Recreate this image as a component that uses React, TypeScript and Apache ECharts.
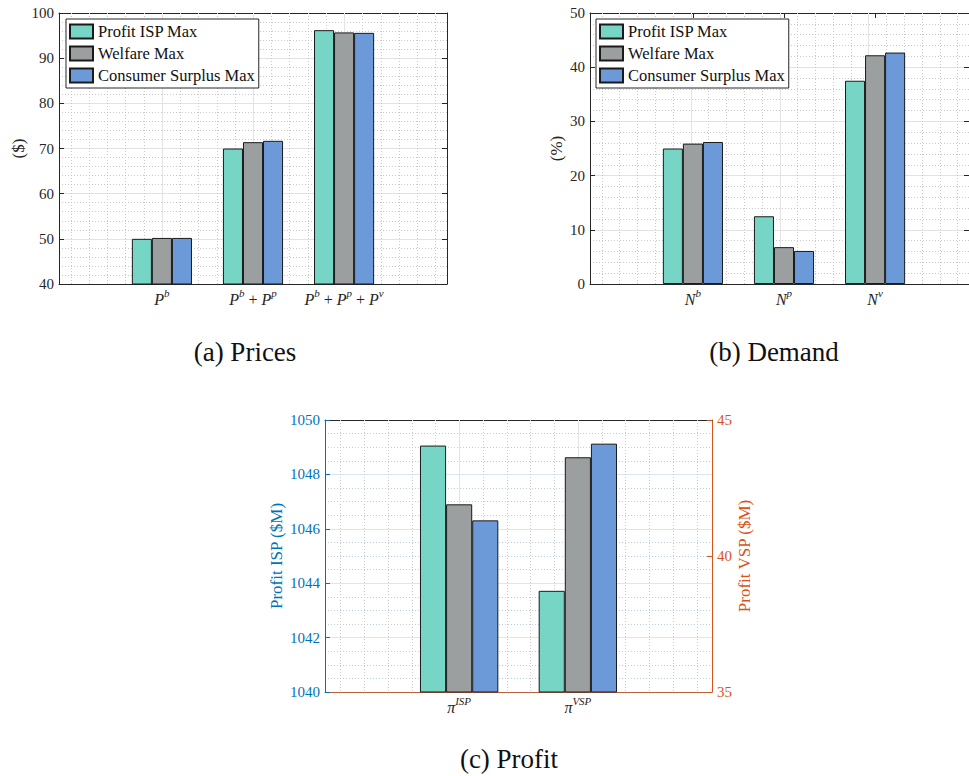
import React, { useEffect, useRef } from "react";
import * as echarts from "echarts";

// ---------- data ----------
const schemeNames = ["Profit ISP Max", "Welfare Max", "Consumer Surplus Max"];
const schemeColors = ["#77D5C6", "#9C9FA0", "#6C9AD9"];

const priceCategories = ["P^b", "P^b + P^p", "P^b + P^p + P^v"];
const priceProfitIspMax = [50.0, 70.0, 96.2];
const priceWelfareMax = [50.2, 71.4, 95.7];
const priceConsumerSurplusMax = [50.2, 71.7, 95.6];
const priceAxis = { min: 40, max: 100, interval: 10 };

const demandCategories = ["N^b", "N^p", "N^v"];
const demandProfitIspMax = [25.0, 12.5, 37.5];
const demandWelfareMax = [25.9, 6.8, 42.2];
const demandConsumerSurplusMax = [26.2, 6.1, 42.7];
const demandAxis = { min: 0, max: 50, interval: 10 };

const profitCategories = ["π^ISP", "π^VSP"];
// values per scheme: Profit ISP Max, Welfare Max, Consumer Surplus Max
const ispProfitBySchemes = [1049.06, 1046.9, 1046.31];
const vspProfitBySchemes = [38.72, 43.63, 44.13];
const ispAxis = { min: 1040, max: 1050, interval: 2 };
const vspAxis = { min: 35, max: 45, interval: 5 };

const captions = ["(a) Prices", "(b) Demand", "(c) Profit"];

// ---------- styling ----------
const FONT = "Liberation Serif, Times New Roman, serif";
const AXIS_COLOR = "#262626";
const ISP_COLOR = "#0072BD";
const VSP_COLOR = "#D95319";

const toRich = (s: string) =>
  s
    .split(" + ")
    .map((t) => {
      const [b, sup] = t.split("^");
      return `{i|${b}}{s|${sup}}`;
    })
    .join("{n| + }");

const richStyles: any = {
  i: { fontFamily: FONT, fontStyle: "italic", fontSize: 16, color: AXIS_COLOR, lineHeight: 20, verticalAlign: "bottom" },
  s: { fontFamily: FONT, fontStyle: "italic", fontSize: 11, color: AXIS_COLOR, lineHeight: 11, verticalAlign: "top" },
  n: { fontFamily: FONT, fontSize: 16, color: AXIS_COLOR, lineHeight: 20, verticalAlign: "bottom" },
};

function buildOption() {
  const grid: any[] = [];
  const xAxis: any[] = [];
  const yAxis: any[] = [];
  const series: any[] = [];

  const makeY = (gi: number, position: string, a: any, primary: boolean) => ({
    gridIndex: gi,
    type: "value",
    position,
    min: a.min,
    max: a.max,
    interval: a.interval,
    axisLine: { show: true, onZero: false, lineStyle: { color: a.lineColor, width: 1 } },
    axisTick: { show: true, inside: true, length: 5, lineStyle: { color: a.lineColor } },
    axisLabel: {
      show: !!a.showLabels,
      color: a.labelColor,
      fontFamily: FONT,
      fontSize: 15,
      margin: 5,
      formatter: (v: number) => String(v),
    },
    splitLine: { show: primary, lineStyle: { color: a.splitColor, width: 1 } },
    minorTick: { show: false, splitNumber: a.minorSplit },
    minorSplitLine: { show: primary, lineStyle: { color: a.minorColor, width: 1, type: [1, 2] } },
    name: a.name,
    nameLocation: "middle",
    nameGap: a.nameGap,
    nameRotate: 90,
    nameTextStyle: { color: a.labelColor, fontFamily: FONT, fontSize: 17 },
  });

  const gridLineSeries = (xi: number, yi: number, xs: number[], color: string, dash?: number[]) => ({
    type: "custom",
    xAxisIndex: xi,
    yAxisIndex: yi,
    silent: true,
    z: 1,
    data: xs.map((v) => [v, 0]),
    renderItem: (params: any, api: any) => {
      const cs = params.coordSys;
      const x = Math.round(api.coord([api.value(0), api.value(1)])[0]) + 0.5;
      return {
        type: "line",
        shape: { x1: x, y1: cs.y, x2: x, y2: cs.y + cs.height },
        style: { stroke: color, lineWidth: 1, lineDash: dash },
      };
    },
  });

  const addPanel = (cfg: any) => {
    const n = cfg.categories.length;
    const xMin = 1 - cfg.pad;
    const xMax = n + cfg.pad;
    const ppu = cfg.frame.width / (xMax - xMin);
    const fg = grid.length;
    grid.push({ ...cfg.frame });
    const xB = xAxis.length;
    xAxis.push({
      gridIndex: fg, type: "value", min: xMin, max: xMax, position: "bottom",
      axisLine: { show: true, onZero: false, lineStyle: { color: cfg.bottomColor, width: 1 } },
      axisTick: { show: false }, axisLabel: { show: false }, splitLine: { show: false },
    });
    xAxis.push({
      gridIndex: fg, type: "value", min: xMin, max: xMax, position: "top",
      axisLine: { show: true, onZero: false, lineStyle: { color: AXIS_COLOR, width: 1 } },
      axisTick: { show: false }, axisLabel: { show: false }, splitLine: { show: false },
    });
    const yL = yAxis.length;
    yAxis.push(makeY(fg, "left", cfg.left, true));
    yAxis.push(makeY(fg, "right", cfg.right, false));

    const majors = cfg.categories.map((_: any, i: number) => i + 1);
    const minors: number[] = [];
    for (let k = Math.ceil(xMin / 0.2 - 1e-9); k * 0.2 <= xMax + 1e-9; k++) {
      const v = +(k * 0.2).toFixed(6);
      if (Math.abs(v - Math.round(v)) < 1e-6 && majors.includes(Math.round(v))) continue;
      minors.push(v);
    }
    series.push(gridLineSeries(xB, yL, majors, cfg.vMajorColor));
    series.push(gridLineSeries(xB, yL, minors, cfg.vMinorColor, [1, 2]));

    const catRect = {
      left: cfg.frame.left + (0.5 - xMin) * ppu,
      top: cfg.frame.top,
      width: n * ppu,
      height: cfg.frame.height,
    };
    cfg.groups.forEach((g: any) => {
      const cg = grid.length;
      grid.push({ ...catRect });
      const cx = xAxis.length;
      xAxis.push({
        gridIndex: cg, type: "category", data: cfg.categories, position: "bottom",
        axisLine: { show: false }, axisTick: { show: false },
        axisLabel: { show: g.showLabels, formatter: toRich, rich: richStyles, margin: 3, interval: 0 },
        splitLine: { show: false },
      });
      if (g.topTicks) {
        xAxis.push({
          gridIndex: cg, type: "category", data: cfg.categories, position: "top",
          axisLine: { show: false },
          axisTick: { show: true, inside: true, alignWithLabel: true, length: 5, lineStyle: { color: AXIS_COLOR } },
          axisLabel: { show: false }, splitLine: { show: false },
        });
      }
      const cy = yAxis.length;
      yAxis.push({ gridIndex: cg, type: "value", min: g.axis.min, max: g.axis.max, show: false });
      g.values.forEach((vals: any[], si: number) =>
        series.push({
          type: "bar",
          name: schemeNames[si],
          xAxisIndex: cx,
          yAxisIndex: cy,
          data: vals,
          barGap: "0%",
          barCategoryGap: "34%",
          itemStyle: { color: schemeColors[si], borderColor: "#1a1a1a", borderWidth: 1 },
          emphasis: { disabled: true },
          z: 3,
        })
      );
    });
  };

  const grayLeft = (axis: any, name: string, nameGap: number) => ({
    ...axis, showLabels: true, lineColor: AXIS_COLOR, labelColor: AXIS_COLOR,
    splitColor: "#e3e3e3", minorColor: "#c9c9c9", minorSplit: 5, name, nameGap,
  });
  const grayRight = (axis: any) => ({
    ...axis, showLabels: false, lineColor: AXIS_COLOR, labelColor: AXIS_COLOR, minorSplit: 5,
  });

  addPanel({
    frame: { left: 59, top: 13, width: 388, height: 271 },
    categories: priceCategories,
    pad: 1.13,
    bottomColor: AXIS_COLOR,
    vMajorColor: "#e3e3e3",
    vMinorColor: "#c9c9c9",
    left: grayLeft(priceAxis, "($)", 32),
    right: grayRight(priceAxis),
    groups: [
      { axis: priceAxis, showLabels: true, topTicks: true, values: [priceProfitIspMax, priceWelfareMax, priceConsumerSurplusMax] },
    ],
  });

  addPanel({
    frame: { left: 590, top: 13, width: 388, height: 271 },
    categories: demandCategories,
    pad: 1.13,
    bottomColor: AXIS_COLOR,
    vMajorColor: "#e3e3e3",
    vMinorColor: "#c9c9c9",
    left: grayLeft(demandAxis, "(%)", 25),
    right: grayRight(demandAxis),
    groups: [
      { axis: demandAxis, showLabels: true, topTicks: true, values: [demandProfitIspMax, demandWelfareMax, demandConsumerSurplusMax] },
    ],
  });

  addPanel({
    frame: { left: 325, top: 420, width: 387, height: 272 },
    categories: profitCategories,
    pad: 1.13,
    bottomColor: "#B8603F",
    vMajorColor: "#e3e3e3",
    vMinorColor: "#c9c9c9",
    left: {
      ...ispAxis, showLabels: true, lineColor: ISP_COLOR, labelColor: ISP_COLOR,
      splitColor: "#d9e7f3", minorColor: "#b9cfe3", minorSplit: 4,
      name: "Profit ISP ($M)", nameGap: 40,
    },
    right: {
      ...vspAxis, showLabels: true, lineColor: VSP_COLOR, labelColor: VSP_COLOR, minorSplit: 4,
      name: "Profit VSP ($M)", nameGap: 23,
    },
    groups: [
      { axis: ispAxis, showLabels: true, topTicks: true, values: ispProfitBySchemes.map((v) => [v, "-"]) },
      { axis: vspAxis, showLabels: false, topTicks: false, values: vspProfitBySchemes.map((v) => ["-", v]) },
    ],
  });

  const legendBase = {
    orient: "vertical",
    data: schemeNames,
    itemWidth: 23,
    itemHeight: 14,
    itemGap: 5,
    padding: [4, 4, 4, 3],
    borderColor: AXIS_COLOR,
    borderWidth: 1,
    borderRadius: 0,
    backgroundColor: "#fff",
    icon: "rect",
    selectedMode: false,
    textStyle: { fontFamily: FONT, fontSize: 16.5, color: "#111", lineHeight: 14 },
    z: 10,
  };

  const captionPos = [
    [245, 352],
    [774, 352],
    [509, 759],
  ];

  return {
    animation: false,
    backgroundColor: "#fff",
    textStyle: { fontFamily: FONT },
    grid,
    xAxis,
    yAxis,
    series,
    legend: [
      { ...legendBase, left: 66, top: 19 },
      { ...legendBase, left: 596, top: 19 },
    ],
    graphic: captions.map((c, i) => ({
      type: "text",
      x: captionPos[i][0],
      y: captionPos[i][1],
      style: {
        text: c,
        fontFamily: FONT,
        fontSize: 27,
        fill: "#111",
        align: "center",
        verticalAlign: "middle",
        textAlign: "center",
        textVerticalAlign: "middle",
      },
    })),
  };
}

export default function App() {
  const ref = useRef<HTMLDivElement>(null);
  useEffect(() => {
    if (!ref.current) return;
    const chart = echarts.init(ref.current, undefined, { renderer: "svg" });
    chart.setOption(buildOption() as any);
    return () => chart.dispose();
  }, []);
  return (
    <div
      ref={ref}
      style={{ position: "fixed", left: 0, top: 0, width: 969, height: 776, overflow: "hidden", background: "#fff" }}
    />
  );
}
